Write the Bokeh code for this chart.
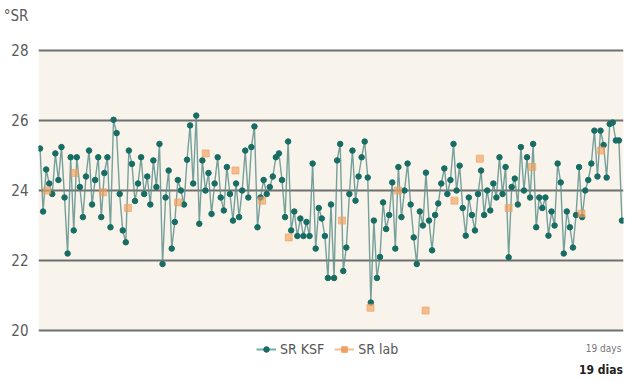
from bokeh.plotting import figure
from bokeh.models import (Range1d, FixedTicker, Legend, LegendItem, Label,
                          ColumnDataSource, BoxAnnotation)
from bokeh.embed import file_html
from bokeh.resources import INLINE

FONT = "DejaVu Sans Condensed, Roboto, sans-serif"

# SR KSF: one reading every 0.1 day over 19 days
ksf_values = [
    25.2, 23.4, 24.6, 24.2, 23.9, 25.06, 24.3, 25.24, 23.8, 22.2,
    24.95, 22.86, 24.95, 24.1, 23.24, 24.4, 25.14, 23.6, 24.3, 24.95,
    23.24, 24.5, 24.95, 22.95, 26.02, 25.64, 23.9, 22.86, 22.52, 25.14,
    24.76, 23.7, 24.2, 24.95, 23.9, 24.4, 23.6, 24.86, 24.1, 25.33,
    21.9, 23.8, 24.57, 22.34, 23.1, 24.3, 24.0, 23.6, 24.88, 25.86,
    24.2, 26.14, 23.05, 24.86, 24.0, 24.5, 23.33, 24.2, 24.95, 23.8,
    23.43, 24.67, 23.9, 23.14, 24.2, 23.24, 24.0, 25.14, 23.8, 25.24,
    25.83, 22.95, 23.8, 24.3, 23.9, 24.1, 24.4, 24.95, 25.06, 24.3,
    23.24, 25.4, 22.86, 23.4, 22.7, 23.2, 22.7, 23.1, 22.7, 24.77,
    22.34, 23.5, 23.2, 22.7, 21.5, 23.6, 21.5, 24.86, 25.33, 21.7,
    22.37, 23.9, 25.14, 23.71, 24.4, 24.95, 25.4, 24.37, 20.8, 23.14,
    21.5, 22.1, 23.66, 22.9, 23.3, 24.23, 22.34, 24.67, 23.24, 24.0,
    24.77, 23.6, 22.66, 21.9, 23.4, 23.0, 24.51, 23.14, 22.29, 23.3,
    23.63, 24.2, 24.63, 23.9, 24.3, 25.33, 24.0, 24.71, 23.5, 22.71,
    23.8, 23.3, 22.86, 23.9, 24.57, 23.3, 24.0, 23.43, 24.2, 23.8,
    24.95, 23.9, 24.67, 22.09, 24.1, 24.34, 23.6, 25.24, 24.0, 24.95,
    23.8, 25.33, 22.95, 23.8, 23.5, 23.8, 22.71, 23.4, 23.0, 24.77,
    24.23, 22.2, 23.4, 22.95, 22.37, 23.3, 24.67, 23.24, 24.0, 24.3,
    24.77, 25.71, 24.4, 25.71, 25.3, 24.37, 25.9, 25.94, 25.43, 25.43,
    23.14,
]
ksf_days = [i * 0.1 for i in range(len(ksf_values))]

# SR lab: occasional laboratory checks (day, °SR)
lab_days = [0.23, 1.13, 2.06, 2.87, 4.51, 5.41, 6.38, 7.25, 8.12, 9.86,
            10.79, 11.69, 12.59, 13.53, 14.36, 15.30, 16.07, 17.68, 18.32]
lab_values = [24.0, 24.5, 23.95, 23.5, 23.66, 25.06, 24.57, 23.71, 22.66, 23.14,
              20.65, 24.0, 20.57, 23.71, 24.91, 23.5, 24.67, 23.34, 25.14]

grid_ticks = [20, 22, 24, 26, 28]
axis_ticks = [20, 22, 24, 26, 28, 29]
axis_labels = {29: "°SR"}

p = figure(width=627, height=381, output_backend="svg", toolbar_location=None,
           x_range=Range1d(-0.05, 19.05), y_range=Range1d(18.5429, 29.4286),
           min_border_left=33, min_border_right=4, min_border_top=0, min_border_bottom=0)
p.outline_line_color = None
p.background_fill_color = "white"
p.border_fill_color = "white"
# off-screen range used only by the legend swatches
p.extra_y_ranges = {"legend_only": Range1d(1000, 1001)}

# cream plotting band between 20 and 28
p.add_layout(BoxAnnotation(bottom=20, top=28, fill_color="#f9f4eb", fill_alpha=1,
                           line_color=None, level="image"))

p.xaxis.visible = False
p.xgrid.visible = False
p.yaxis.ticker = FixedTicker(ticks=axis_ticks)
p.yaxis.major_label_overrides = axis_labels
p.yaxis.axis_line_color = None
p.yaxis.major_tick_line_color = None
p.yaxis.minor_tick_line_color = None
p.yaxis.major_label_standoff = 4
p.yaxis.major_label_text_font = FONT
p.yaxis.major_label_text_font_size = "15px"
p.yaxis.major_label_text_color = "#5a5a5a"
p.ygrid.ticker = FixedTicker(ticks=grid_ticks)
p.ygrid.grid_line_color = "#6f6f6f"
p.ygrid.grid_line_width = 2

src = ColumnDataSource(dict(x=ksf_days, y=ksf_values))
p.line("x", "y", source=src, line_color="#5f918c", line_width=1.4, line_alpha=0.85)
p.scatter("x", "y", source=src, size=5.5, fill_color="#176c63", line_color="#176c63")

lsrc = ColumnDataSource(dict(x=lab_days, y=lab_values))
p.scatter("x", "y", source=lsrc, marker="square", size=7,
          fill_color="#f0a060", line_color="#f0a060", alpha=0.65)

# legend swatches: same data, drawn on the off-screen range so only the legend shows them
lg1 = p.line("x", "y", source=src, y_range_name="legend_only", line_color="#6fb0aa", line_width=2)
lg1d = p.scatter("x", "y", source=src, y_range_name="legend_only", size=5,
                 fill_color="#176c63", line_color="#176c63")
lg2 = p.line("x", "y", source=lsrc, y_range_name="legend_only", line_color="#f7bf90", line_width=2)
lg2d = p.scatter("x", "y", source=lsrc, y_range_name="legend_only", marker="square", size=5,
                 fill_color="#f0a060", line_color="#f0a060")

legend = Legend(items=[LegendItem(label="SR KSF", renderers=[lg1, lg1d]),
                       LegendItem(label="SR lab", renderers=[lg2, lg2d])],
                orientation="horizontal", location=(218, 24),
                label_text_font=FONT, label_text_font_size="14px",
                label_text_color="#555555", border_line_color=None,
                background_fill_alpha=0, glyph_width=20, glyph_height=14,
                label_standoff=4, spacing=10, padding=2, margin=0)
p.add_layout(legend)

p.add_layout(Label(x=18.98, y=19.49, text="19 days", text_font=FONT, text_font_size="10px",
                   text_color="#777777", text_baseline="middle", text_align="right"))
p.add_layout(Label(x=19.03, y=18.86, text="19 dias", text_font=FONT, text_font_size="12px",
                   text_font_style="bold", text_color="#222222", text_baseline="middle",
                   text_align="right"))

open("out.html", "w").write(file_html(p, INLINE))
